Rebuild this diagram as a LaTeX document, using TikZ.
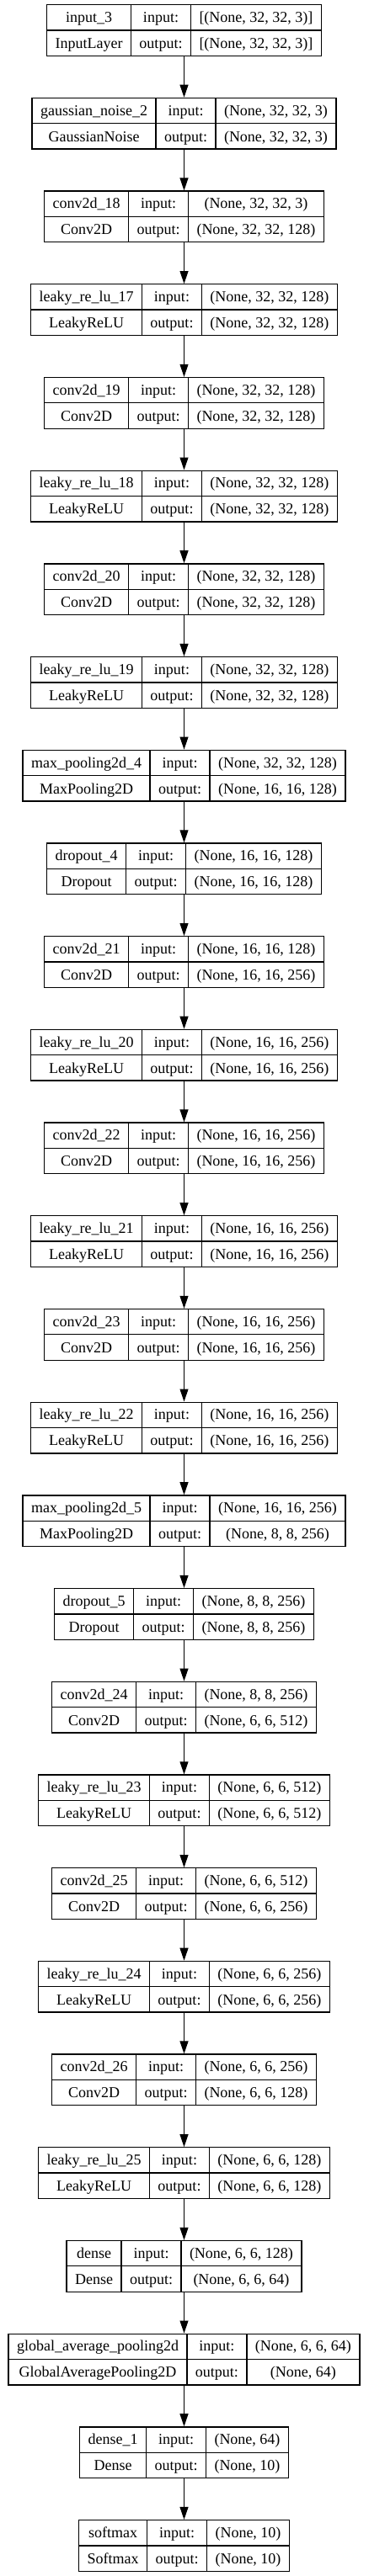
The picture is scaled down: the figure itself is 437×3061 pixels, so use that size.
\documentclass[tikz,border=0pt]{standalone}
\usepackage{fontspec}
\setmainfont{Liberation Serif}
\usetikzlibrary{arrows.meta,positioning}
\setlength{\arrayrulewidth}{1.3pt}
\setlength{\tabcolsep}{10pt}
\renewcommand{\arraystretch}{1.35}
\newcommand{\layercells}[4]{%
  \begin{tabular}{c|c|c}
    #1 & input: & #3 \\ \hline
    #2 & output: & #4
  \end{tabular}}

\begin{document}
\begin{tikzpicture}[
  layer/.style={draw=black, line width=1.3pt, inner sep=0pt, fill=white,
                font=\fontsize{18}{22}\selectfont},
  flow/.style={-{Triangle[length=15pt, width=10pt]}, line width=1pt},
  node distance=48.7pt,
]
\useasboundingbox (0,0) rectangle (437pt,-3061pt);

% ---------- input and 32x32 blocks ----------
\node[layer] (input3) at (218.5pt,-36pt) {\layercells{input\_3}{InputLayer}{[(None, 32, 32, 3)]}{[(None, 32, 32, 3)]}};
\node[layer, below=of input3] (gnoise2) {\layercells{gaussian\_noise\_2}{GaussianNoise}{(None, 32, 32, 3)}{(None, 32, 32, 3)}};
\node[layer, below=of gnoise2] (conv18) {\layercells{conv2d\_18}{Conv2D}{(None, 32, 32, 3)}{(None, 32, 32, 128)}};
\node[layer, below=of conv18] (lrelu17) {\layercells{leaky\_re\_lu\_17}{LeakyReLU}{(None, 32, 32, 128)}{(None, 32, 32, 128)}};
\node[layer, below=of lrelu17] (conv19) {\layercells{conv2d\_19}{Conv2D}{(None, 32, 32, 128)}{(None, 32, 32, 128)}};
\node[layer, below=of conv19] (lrelu18) {\layercells{leaky\_re\_lu\_18}{LeakyReLU}{(None, 32, 32, 128)}{(None, 32, 32, 128)}};
\node[layer, below=of lrelu18] (conv20) {\layercells{conv2d\_20}{Conv2D}{(None, 32, 32, 128)}{(None, 32, 32, 128)}};
\node[layer, below=of conv20] (lrelu19) {\layercells{leaky\_re\_lu\_19}{LeakyReLU}{(None, 32, 32, 128)}{(None, 32, 32, 128)}};
\node[layer, below=of lrelu19] (pool4) {\layercells{max\_pooling2d\_4}{MaxPooling2D}{(None, 32, 32, 128)}{(None, 16, 16, 128)}};

% ---------- 16x16 blocks ----------
\node[layer, below=of pool4] (drop4) {\layercells{dropout\_4}{Dropout}{(None, 16, 16, 128)}{(None, 16, 16, 128)}};
\node[layer, below=of drop4] (conv21) {\layercells{conv2d\_21}{Conv2D}{(None, 16, 16, 128)}{(None, 16, 16, 256)}};
\node[layer, below=of conv21] (lrelu20) {\layercells{leaky\_re\_lu\_20}{LeakyReLU}{(None, 16, 16, 256)}{(None, 16, 16, 256)}};
\node[layer, below=of lrelu20] (conv22) {\layercells{conv2d\_22}{Conv2D}{(None, 16, 16, 256)}{(None, 16, 16, 256)}};
\node[layer, below=of conv22] (lrelu21) {\layercells{leaky\_re\_lu\_21}{LeakyReLU}{(None, 16, 16, 256)}{(None, 16, 16, 256)}};
\node[layer, below=of lrelu21] (conv23) {\layercells{conv2d\_23}{Conv2D}{(None, 16, 16, 256)}{(None, 16, 16, 256)}};
\node[layer, below=of conv23] (lrelu22) {\layercells{leaky\_re\_lu\_22}{LeakyReLU}{(None, 16, 16, 256)}{(None, 16, 16, 256)}};
\node[layer, below=of lrelu22] (pool5) {\layercells{max\_pooling2d\_5}{MaxPooling2D}{(None, 16, 16, 256)}{(None, 8, 8, 256)}};

% ---------- 8x8 and 6x6 blocks ----------
\node[layer, below=of pool5] (drop5) {\layercells{dropout\_5}{Dropout}{(None, 8, 8, 256)}{(None, 8, 8, 256)}};
\node[layer, below=of drop5] (conv24) {\layercells{conv2d\_24}{Conv2D}{(None, 8, 8, 256)}{(None, 6, 6, 512)}};
\node[layer, below=of conv24] (lrelu23) {\layercells{leaky\_re\_lu\_23}{LeakyReLU}{(None, 6, 6, 512)}{(None, 6, 6, 512)}};
\node[layer, below=of lrelu23] (conv25) {\layercells{conv2d\_25}{Conv2D}{(None, 6, 6, 512)}{(None, 6, 6, 256)}};
\node[layer, below=of conv25] (lrelu24) {\layercells{leaky\_re\_lu\_24}{LeakyReLU}{(None, 6, 6, 256)}{(None, 6, 6, 256)}};
\node[layer, below=of lrelu24] (conv26) {\layercells{conv2d\_26}{Conv2D}{(None, 6, 6, 256)}{(None, 6, 6, 128)}};
\node[layer, below=of conv26] (lrelu25) {\layercells{leaky\_re\_lu\_25}{LeakyReLU}{(None, 6, 6, 128)}{(None, 6, 6, 128)}};

% ---------- head ----------
\node[layer, below=of lrelu25] (dense) {\layercells{dense}{Dense}{(None, 6, 6, 128)}{(None, 6, 6, 64)}};
\node[layer, below=of dense] (gap) {\layercells{global\_average\_pooling2d}{GlobalAveragePooling2D}{(None, 6, 6, 64)}{(None, 64)}};
\node[layer, below=of gap] (dense1) {\layercells{dense\_1}{Dense}{(None, 64)}{(None, 10)}};
\node[layer, below=of dense1] (softmax) {\layercells{softmax}{Softmax}{(None, 10)}{(None, 10)}};

% ---------- connectors ----------
\draw[flow] (input3) -- (gnoise2);
\draw[flow] (gnoise2) -- (conv18);
\draw[flow] (conv18) -- (lrelu17);
\draw[flow] (lrelu17) -- (conv19);
\draw[flow] (conv19) -- (lrelu18);
\draw[flow] (lrelu18) -- (conv20);
\draw[flow] (conv20) -- (lrelu19);
\draw[flow] (lrelu19) -- (pool4);
\draw[flow] (pool4) -- (drop4);
\draw[flow] (drop4) -- (conv21);
\draw[flow] (conv21) -- (lrelu20);
\draw[flow] (lrelu20) -- (conv22);
\draw[flow] (conv22) -- (lrelu21);
\draw[flow] (lrelu21) -- (conv23);
\draw[flow] (conv23) -- (lrelu22);
\draw[flow] (lrelu22) -- (pool5);
\draw[flow] (pool5) -- (drop5);
\draw[flow] (drop5) -- (conv24);
\draw[flow] (conv24) -- (lrelu23);
\draw[flow] (lrelu23) -- (conv25);
\draw[flow] (conv25) -- (lrelu24);
\draw[flow] (lrelu24) -- (conv26);
\draw[flow] (conv26) -- (lrelu25);
\draw[flow] (lrelu25) -- (dense);
\draw[flow] (dense) -- (gap);
\draw[flow] (gap) -- (dense1);
\draw[flow] (dense1) -- (softmax);

\end{tikzpicture}
\end{document}
